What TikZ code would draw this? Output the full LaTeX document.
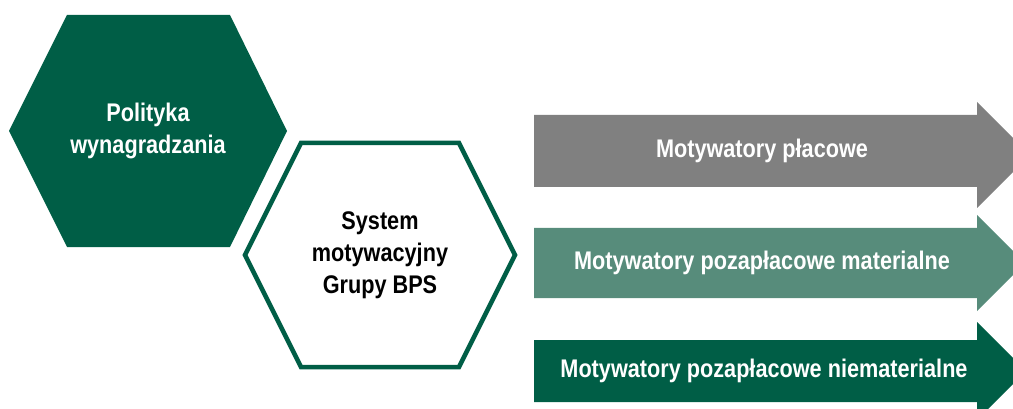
\documentclass[tikz,border=0pt]{standalone}
\usepackage{fontspec}
\setmainfont{Liberation Sans}[FakeStretch=0.85]
\usepackage{xcolor}
\usepackage{tikz}
\definecolor{bpsdark}{HTML}{005E46}
\definecolor{bpsmid}{HTML}{578C7B}
\definecolor{bpsgray}{HTML}{808080}
\tikzstyle{darkhex} = [fill=bpsdark]
\tikzstyle{linehex} = [draw=bpsdark, fill=white, line width=4.5pt]
\tikzstyle{title} = [text=white, font=\bfseries\fontsize{25.5}{32}\selectfont, align=center]
\tikzstyle{darktitle} = [title, text=black]

\begin{document}
\begin{tikzpicture}[x=1pt, y=-1pt]
	\useasboundingbox (0,0) rectangle (1013,409);
	\clip (0,0) rectangle (1013,409);
	% Hexagons
	\fill [darkhex] (9,131) -- (67,15) -- (230,15) -- (287,131) -- (230,247) -- (67,247) -- cycle;
	\draw [linehex] (245,255) -- (301,143) -- (459,143) -- (515,255) -- (459,367) -- (301,367) -- cycle;
	\node [title] (policy) at (148,131) {Polityka\\wynagradzania};
	\node [darktitle] (system) at (380,255) {System\\motywacyjny\\Grupy BPS};

	% Arrows
	\fill [bpsgray] (534,115) -- (977,115) -- (977,102) -- (1030,155) -- (977,208) -- (977,187) -- (534,187) -- cycle;
	\fill [bpsmid] (534,228) -- (977,228) -- (977,215) -- (1025,263) -- (977,311) -- (977,298) -- (534,298) -- cycle;
	\fill [bpsdark] (534,340) -- (977,340) -- (977,322) -- (1026,371) -- (977,420) -- (977,402) -- (534,402) -- cycle;
	\node [title] (pay) at (762,151) {Motywatory płacowe};
	\node [title] (material) at (762,263) {Motywatory pozapłacowe materialne};
	\node [title] (nonmaterial) at (764,371) {Motywatory pozapłacowe niematerialne};
\end{tikzpicture}
\end{document}
